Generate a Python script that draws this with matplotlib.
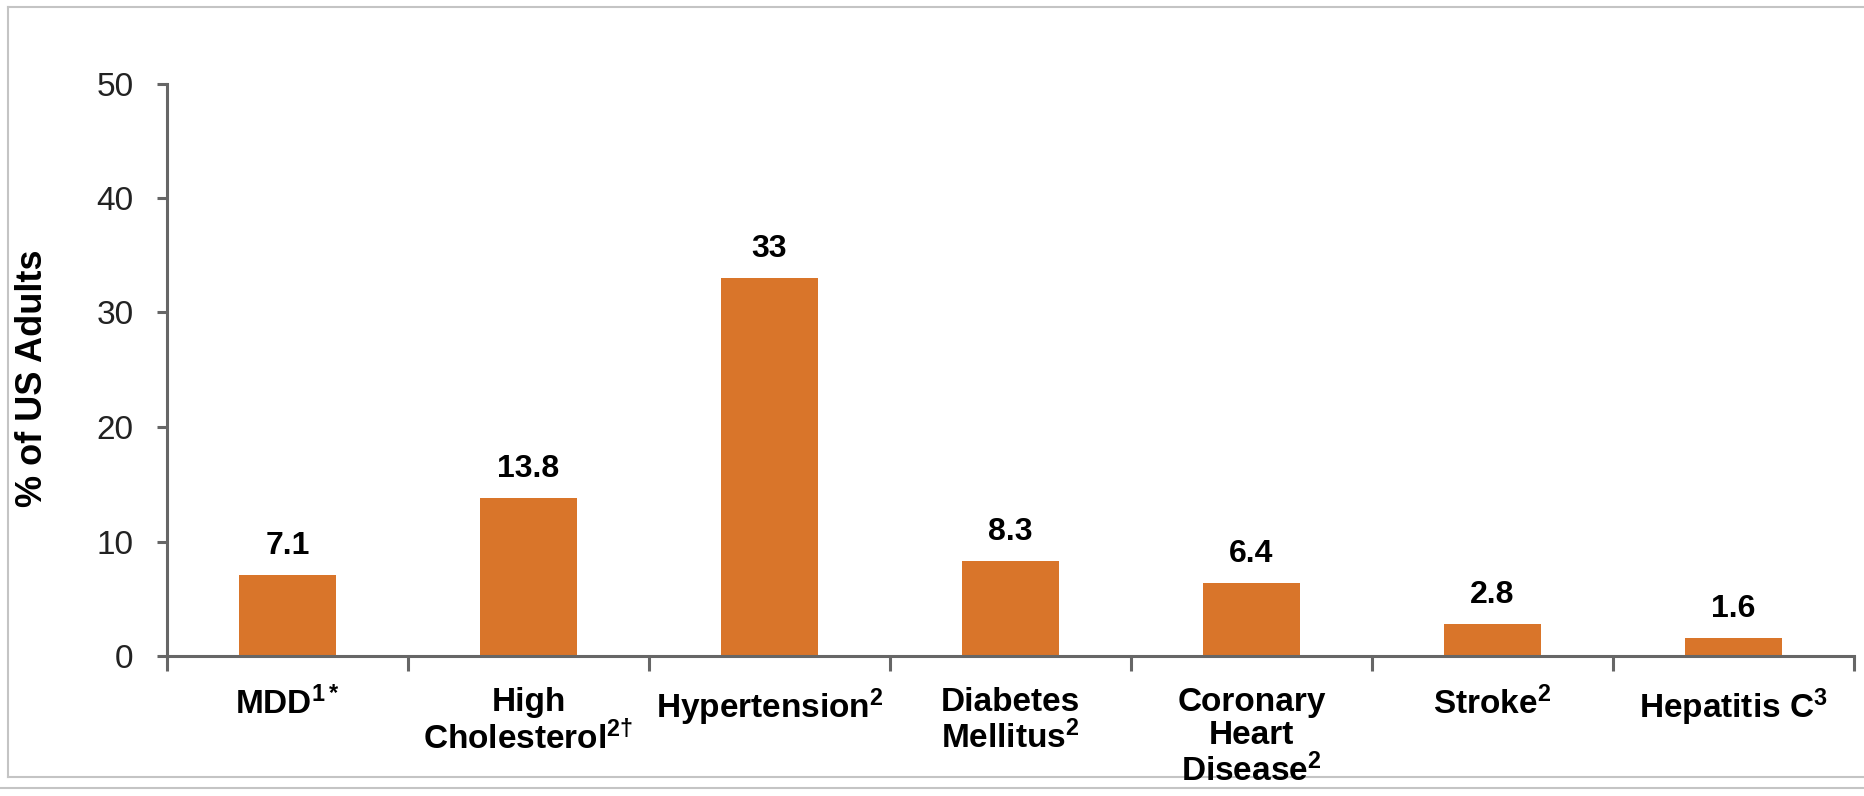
import matplotlib
matplotlib.use("Agg")
import matplotlib.pyplot as plt
from matplotlib.lines import Line2D

plt.rcParams["font.family"] = ["Liberation Sans", "DejaVu Sans"]
plt.rcParams["mathtext.default"] = "regular"

CATEGORIES = [
    "MDD$^{1*}$",
    "High\nCholesterol$^{2†}$",
    "Hypertension$^{2}$",
    "Diabetes\nMellitus$^{2}$",
    "Coronary\nHeart\nDisease$^{2}$",
    "Stroke$^{2}$",
    "Hepatitis C$^{3}$",
]
VALUES = [7.1, 13.8, 33, 8.3, 6.4, 2.8, 1.6]
VALUE_LABELS = ["7.1", "13.8", "33", "8.3", "6.4", "2.8", "1.6"]
Y_TICKS = [0, 10, 20, 30, 40, 50]

BAR_COLOR = "#D9752A"
AXIS_COLOR = "#666666"
FRAME_COLOR = "#C4C4C4"


def main():
    fig = plt.figure(figsize=(18.64, 7.96), dpi=100)
    ax = fig.add_axes([167 / 1864, 1 - 656 / 796, (1854 - 167) / 1864, (656 - 83.5) / 796])

    x = list(range(len(CATEGORIES)))
    bars = ax.bar(x, VALUES, width=0.4, color=BAR_COLOR, zorder=2)

    for bar, label in zip(bars, VALUE_LABELS):
        ax.annotate(label, (bar.get_x() + bar.get_width() / 2, bar.get_height()),
                    xytext=(0, 15), textcoords="offset points",
                    ha="center", va="baseline", fontsize=23, fontweight="bold")

    ax.set_xlim(-0.5, len(CATEGORIES) - 0.5)
    ax.set_ylim(0, 50)
    ax.set_yticks(Y_TICKS)
    ax.set_yticklabels([str(t) for t in Y_TICKS], fontsize=24, color="#222222")

    # category names sit between the boundary ticks
    ax.set_xticks(x)
    ax.set_xticklabels(CATEGORIES, fontsize=24, fontweight="bold", va="top", linespacing=1.1)
    ax.set_xticks([i - 0.5 for i in range(len(CATEGORIES) + 1)], minor=True)
    ax.tick_params(axis="x", which="major", length=0, pad=22)
    ax.tick_params(axis="x", which="minor", length=11, width=2.2, color=AXIS_COLOR, direction="out")
    ax.tick_params(axis="y", length=7, width=2.2, color=AXIS_COLOR, pad=17)

    for side in ("top", "right"):
        ax.spines[side].set_visible(False)
    for side in ("left", "bottom"):
        ax.spines[side].set_color(AXIS_COLOR)
        ax.spines[side].set_linewidth(2.2)

    fig.text(33 / 1864, 1 - 378 / 796, "% of US Adults", rotation=90, ha="center", va="center",
             fontsize=26, fontweight="bold")

    # slide frame lines
    y_top, y_bot, y_low = 1 - 7 / 796, 1 - 777 / 796, 1 - 788 / 796
    x_left = 8 / 1864
    frame = [
        ([x_left, 1], [y_top, y_top]),
        ([x_left, x_left], [y_top, y_bot]),
        ([x_left, 1], [y_bot, y_bot]),
        ([0, 1], [y_low, y_low]),
    ]
    for xs, ys in frame:
        fig.add_artist(Line2D(xs, ys, color=FRAME_COLOR, linewidth=1.5, zorder=0))

    fig.savefig("out.png", dpi=100, facecolor="white")
    plt.close(fig)


if __name__ == "__main__":
    main()
